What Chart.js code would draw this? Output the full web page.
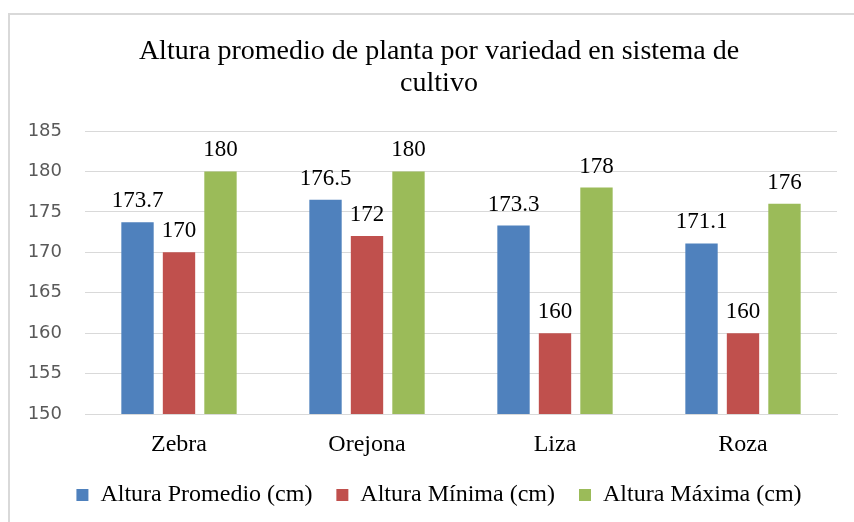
<!DOCTYPE html>
<html>
<head>
<meta charset="utf-8">
<script src="https://cdn.jsdelivr.net/npm/chart.js@4.4.0/dist/chart.umd.min.js"></script>
<style>
  html, body { margin: 0; padding: 0; background: #fff; overflow: hidden; }
  #wrap { position: absolute; left: 0; top: 0; width: 854px; height: 540px; }
</style>
</head>
<body>
<div id="wrap"><canvas id="c" width="854" height="540"></canvas></div>
<script>
const categories = ["Zebra", "Orejona", "Liza", "Roza"];
const promedio = [173.7, 176.5, 173.3, 171.1];
const minima = [170, 172, 160, 160];
const maxima = [180, 180, 178, 176];
const seriesNames = ["Altura Promedio (cm)", "Altura Mínima (cm)", "Altura Máxima (cm)"];
const titleLines = ["Altura promedio de planta por variedad en sistema de", "cultivo"];
const yMin = 150, yMax = 185, yStep = 5;

const serif = "'Liberation Serif', 'Times New Roman', serif";

// let y tick labels extend left of the (narrow) axis box without clipping
const LinearCls = Chart.registry.getScale('linear');
if (LinearCls && LinearCls.prototype) {
  LinearCls.prototype._computeLabelArea = function () { return undefined; };
}

const frame = {
  id: 'frame',
  beforeDraw(chart) {
    const ctx = chart.ctx;
    ctx.save();
    ctx.fillStyle = '#fff';
    ctx.fillRect(0, 0, chart.width, chart.height);
    ctx.strokeStyle = '#d9d9d9';
    ctx.lineWidth = 2;
    ctx.strokeRect(9, 14, 900, 600);
    ctx.restore();
  }
};

const valueLabels = {
  id: 'valueLabels',
  afterDatasetsDraw(chart) {
    const ctx = chart.ctx;
    ctx.save();
    ctx.font = "23px " + serif;
    ctx.fillStyle = '#000';
    ctx.textAlign = 'center';
    ctx.textBaseline = 'alphabetic';
    chart.data.datasets.forEach((ds, i) => {
      const meta = chart.getDatasetMeta(i);
      meta.data.forEach((bar, j) => {
        ctx.fillText(String(ds.data[j]), bar.x, bar.y - 15);
      });
    });
    ctx.restore();
  }
};

new Chart(document.getElementById('c'), {
  type: 'bar',
  data: {
    labels: categories,
    datasets: [
      { label: seriesNames[0], data: promedio, backgroundColor: '#4F81BD' },
      { label: seriesNames[1], data: minima, backgroundColor: '#C0504D' },
      { label: seriesNames[2], data: maxima, backgroundColor: '#9BBB59' }
    ]
  },
  options: {
    responsive: false,
    animation: false,
    devicePixelRatio: 1,
    layout: { padding: { left: 41, right: 17, top: 0, bottom: 23 } },
    datasets: { bar: { categoryPercentage: 0.662, barPercentage: 0.78 } },
    plugins: {
      title: {
        display: true,
        text: titleLines,
        color: '#000',
        font: { family: serif, size: 28, weight: 'normal', lineHeight: 1.143 },
        padding: { top: 36, bottom: 31 }
      },
      legend: {
        position: 'bottom',
        labels: {
          color: '#000',
          font: { family: serif, size: 24 },
          boxWidth: 12, boxHeight: 12,
          padding: 24
        }
      },
      tooltip: { enabled: false }
    },
    scales: {
      x: {
        grid: { display: false, drawTicks: false },
        border: { display: true, color: '#d9d9d9', width: 1 },
        ticks: { color: '#000', font: { family: serif, size: 24 }, padding: 16, maxRotation: 0 },
        afterFit(scale) { scale.height = 45; }
      },
      y: {
        min: yMin, max: yMax,
        grid: { color: '#d9d9d9', lineWidth: 1, drawTicks: false },
        border: { display: false },
        ticks: { stepSize: yStep, color: '#595959', font: { family: "'DejaVu Sans', sans-serif", size: 18 }, padding: 23 },
        afterFit(scale) { scale.width = 44; }
      }
    }
  },
  plugins: [frame, valueLabels]
});
</script>
</body>
</html>
